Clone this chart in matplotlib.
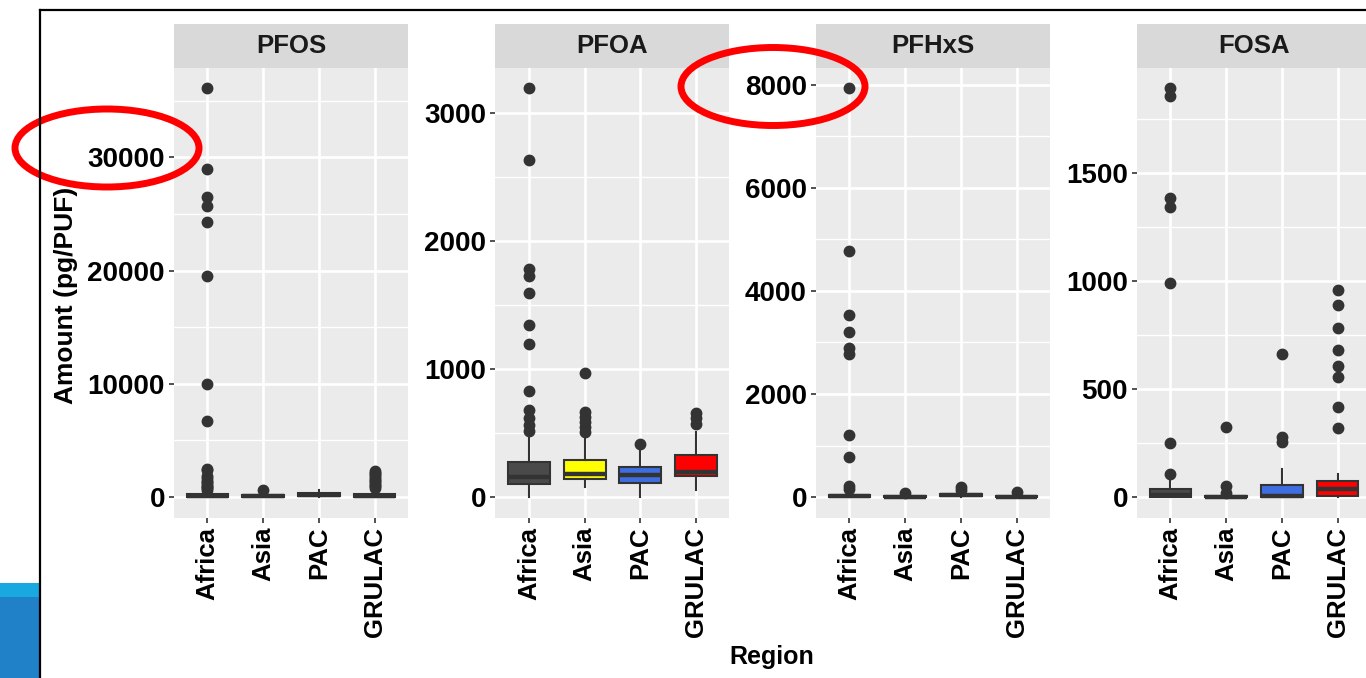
import matplotlib.pyplot as plt
import numpy as np
from matplotlib.patches import Ellipse, Rectangle

plt.rcParams["font.family"] = ["Liberation Sans", "DejaVu Sans"]
plt.rcParams["font.weight"] = "bold"

W, H = 1366, 678

regions = ["Africa", "Asia", "PAC", "GRULAC"]
fills = ["#4a4a4a", "#ffff00", "#3e6ee0", "#ff0000"]
compounds = ["PFOS", "PFOA", "PFHxS", "FOSA"]

# box summaries per compound, one entry per region: (whislo, q1, med, q3, whishi)
pfos_box = [(0, 30, 90, 260, 580), (0, 20, 70, 200, 420),
            (0, 60, 150, 330, 620), (0, 40, 120, 300, 640)]
pfos_out = [
    [36100, 28950, 26500, 25700, 24300, 19500, 9970, 6700, 2470, 2350,
     1850, 1650, 1450, 1300, 1150, 1000, 880, 760, 650],
    [620],
    [],
    [2300, 2150, 2000, 1850, 1700, 1550, 1400, 1250, 1100, 950, 800],
]

pfoa_box = [(0, 100, 158, 273, 500), (80, 140, 180, 289, 471),
            (0, 107, 175, 232, 367), (55, 166, 197, 328, 508)]
pfoa_out = [
    [3195, 2633, 1781, 1727, 1594, 1344, 1195, 828, 680, 617, 563, 515],
    [968, 666, 627, 588, 549, 510],
    [414],
    [656, 617, 570],
]

pfhxs_box = [(0, 5, 15, 40, 95), (0, 3, 10, 25, 55),
             (0, 15, 35, 65, 120), (0, 3, 10, 30, 60)]
pfhxs_out = [
    [7930, 4780, 3540, 3210, 2900, 2770, 1200, 770, 213, 150],
    [80],
    [200, 135],
    [100],
]

fosa_box = [(0, 0, 10, 37, 78), (0, 0, 0, 5, 12),
            (0, 0, 5, 54, 130), (0, 5, 37, 74, 106)]
fosa_out = [
    [1890, 1857, 1381, 1340, 988, 250, 106],
    [323, 50, 20],
    [662, 279, 256],
    [960, 887, 780, 679, 605, 554, 416, 320],
]

boxes = [pfos_box, pfoa_box, pfhxs_box, fosa_box]
outliers = [pfos_out, pfoa_out, pfhxs_out, fosa_out]
yticks = [[0, 10000, 20000, 30000], [0, 1000, 2000, 3000],
          [0, 2000, 4000, 6000, 8000], [0, 500, 1000, 1500]]


def px_rect(x0, y0, x1, y1):
    return [x0 / W, 1 - y1 / H, (x1 - x0) / W, (y1 - y0) / H]


fig = plt.figure(figsize=(W / 100, H / 100), dpi=100)

panel_left = [174, 495.5, 816, 1137]
panel_w = 234
panel_top, panel_bot = 68, 517.5
strip_top = 24

for k, name in enumerate(compounds):
    x0 = panel_left[k]
    ax = fig.add_axes(px_rect(x0, panel_top, x0 + panel_w, panel_bot))
    ax.set_facecolor("#ebebeb")

    stats = []
    for (lo, q1, med, q3, hi), fl in zip(boxes[k], outliers[k]):
        stats.append(dict(whislo=lo, q1=q1, med=med, q3=q3, whishi=hi, fliers=fl))
    pos = np.arange(1, len(regions) + 1)
    bp = ax.bxp(
        stats, positions=pos, widths=0.75, patch_artist=True, showcaps=False,
        boxprops=dict(edgecolor="#333333", linewidth=1.5),
        whiskerprops=dict(color="#333333", linewidth=1.5),
        medianprops=dict(color="#333333", linewidth=3.2),
        flierprops=dict(marker="o", markersize=7.5, markerfacecolor="#333333",
                        markeredgecolor="#333333"),
        zorder=3,
    )
    for patch, c in zip(bp["boxes"], fills):
        patch.set_facecolor(c)

    # ggplot-like expansion of 5% of the data range
    vals = [v for b in boxes[k] for v in b] + [v for o in outliers[k] for v in o]
    lo, hi = min(vals), max(vals)
    pad = 0.05 * (hi - lo)

    yt = yticks[k]
    step = yt[1] - yt[0]
    minors = np.arange(yt[0] + step / 2, hi + pad, step)
    ax.set_yticks(yt)
    ax.set_yticks(minors, minor=True)
    ax.set_xticks(pos)
    ax.set_xticklabels(regions, rotation=90, fontsize=18.5, fontweight="bold")
    ax.set_yticklabels([str(v) for v in yt], fontsize=20, fontweight="bold")
    ax.set_ylim(lo - pad, hi + pad)
    ax.set_xlim(0.4, len(regions) + 0.6)

    ax.grid(True, which="major", color="white", linewidth=1.9, zorder=0)
    ax.grid(True, which="minor", axis="y", color="white", linewidth=1.0, zorder=0)
    ax.set_axisbelow(True)
    ax.tick_params(which="major", length=3.5, width=1.2, color="#333333", pad=3)
    ax.tick_params(which="minor", length=0)
    for s in ax.spines.values():
        s.set_visible(False)

    sx = fig.add_axes(px_rect(x0, strip_top, x0 + panel_w, panel_top))
    sx.set_facecolor("#d9d9d9")
    sx.set_xticks([])
    sx.set_yticks([])
    for s in sx.spines.values():
        s.set_visible(False)
    sx.text(0.5, 0.5, name, ha="center", va="center", fontsize=18.5,
            fontweight="bold", color="#1a1a1a", transform=sx.transAxes)

fig.text(66 / W, 1 - 295 / H, "Amount (pg/PUF)", rotation=90, ha="center",
         va="center", fontsize=19, fontweight="bold")
fig.text(772 / W, 1 - 657 / H, "Region", ha="center", va="center",
         fontsize=18, fontweight="bold")

# slide frame, corner decoration and red highlight rings
ov = fig.add_axes([0, 0, 1, 1])
ov.set_xlim(0, W)
ov.set_ylim(H, 0)
ov.axis("off")
ov.patch.set_alpha(0)
ov.plot([40, W], [10, 10], color="black", linewidth=1.6)
ov.plot([40, 40], [10, H], color="black", linewidth=1.6)
ov.add_patch(Rectangle((0, 583), 39, 14, color="#1aa8e0", linewidth=0))
ov.add_patch(Rectangle((0, 597), 39, H - 597, color="#2181c8", linewidth=0))
ov.add_patch(Ellipse((107, 148), 184, 78, fill=False, edgecolor="#ff0000",
                     linewidth=5))
ov.add_patch(Ellipse((773, 86.5), 184, 78, fill=False, edgecolor="#ff0000",
                     linewidth=5))

fig.savefig("out.png", dpi=100)
